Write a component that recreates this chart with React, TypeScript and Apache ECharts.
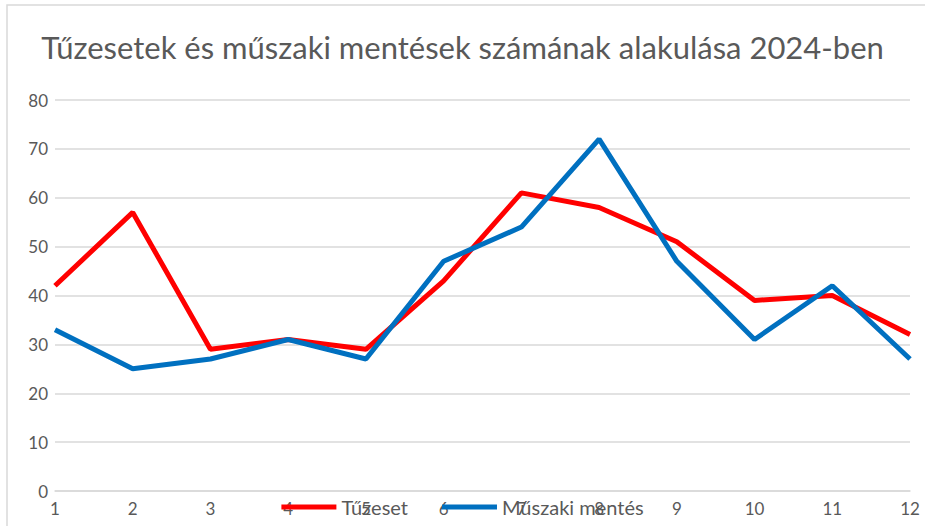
import React, { useEffect, useRef } from "react";
import * as echarts from "echarts";

const categories = ["1", "2", "3", "4", "5", "6", "7", "8", "9", "10", "11", "12"];
const tuzeset = [42, 57, 29, 31, 29, 43, 61, 58, 51, 39, 40, 32];
const muszaki = [33, 25, 27, 31, 27, 47, 54, 72, 47, 31, 42, 27];
const seriesNames = ["Tűzeset", "Műszaki mentés"];
const titleText = "Tűzesetek és műszaki mentések számának alakulása 2024-ben";

export default function App() {
  const ref = useRef<HTMLDivElement>(null);
  useEffect(() => {
    if (!ref.current) return;
    const chart = echarts.init(ref.current, null, { renderer: "svg" });
    const font = "Lato, 'Open Sans', sans-serif";
    chart.setOption({
      animation: false,
      backgroundColor: "#ffffff",
      textStyle: { fontFamily: font },
      title: {
        text: titleText,
        left: "center",
        top: 26,
        textStyle: { fontFamily: font, fontSize: 31, fontWeight: "normal", color: "#595959" },
      },
      graphic: [
        {
          type: "rect",
          shape: { x: 7, y: 5, width: 1000, height: 1000 },
          style: { fill: "none", stroke: "#d9d9d9", lineWidth: 1.5 },
          silent: true,
        },
      ],
      legend: {
        data: seriesNames,
        left: "center",
        top: 492,
        icon: "rect",
        itemWidth: 55,
        itemHeight: 5,
        itemGap: 34,
        textStyle: { fontFamily: font, fontSize: 20, color: "#595959" },
      },
      grid: { left: 55, right: 15, top: 100, bottom: 35, containLabel: false },
      xAxis: {
        type: "category",
        data: categories,
        boundaryGap: false,
        axisLine: { show: true, lineStyle: { color: "#d9d9d9", width: 1.5 } },
        axisTick: { show: false },
        axisLabel: { fontFamily: font, fontSize: 17, color: "#595959", margin: 9 },
      },
      yAxis: {
        type: "value",
        min: 0,
        max: 80,
        interval: 10,
        axisLine: { show: false },
        axisTick: { show: false },
        axisLabel: { fontFamily: font, fontSize: 17, color: "#595959", margin: 7 },
        splitLine: { lineStyle: { color: "#d9d9d9", width: 1.5 } },
      },
      series: [
        {
          name: seriesNames[0],
          type: "line",
          data: tuzeset,
          showSymbol: false,
          symbol: "none",
          color: "#ff0000",
          lineStyle: { color: "#ff0000", width: 5 },
        },
        {
          name: seriesNames[1],
          type: "line",
          data: muszaki,
          showSymbol: false,
          symbol: "none",
          color: "#0070c0",
          lineStyle: { color: "#0070c0", width: 5 },
        },
      ],
    });
    return () => chart.dispose();
  }, []);
  return (
    <div
      ref={ref}
      style={{ position: "absolute", left: 0, top: 0, width: 925, height: 526 }}
    />
  );
}
